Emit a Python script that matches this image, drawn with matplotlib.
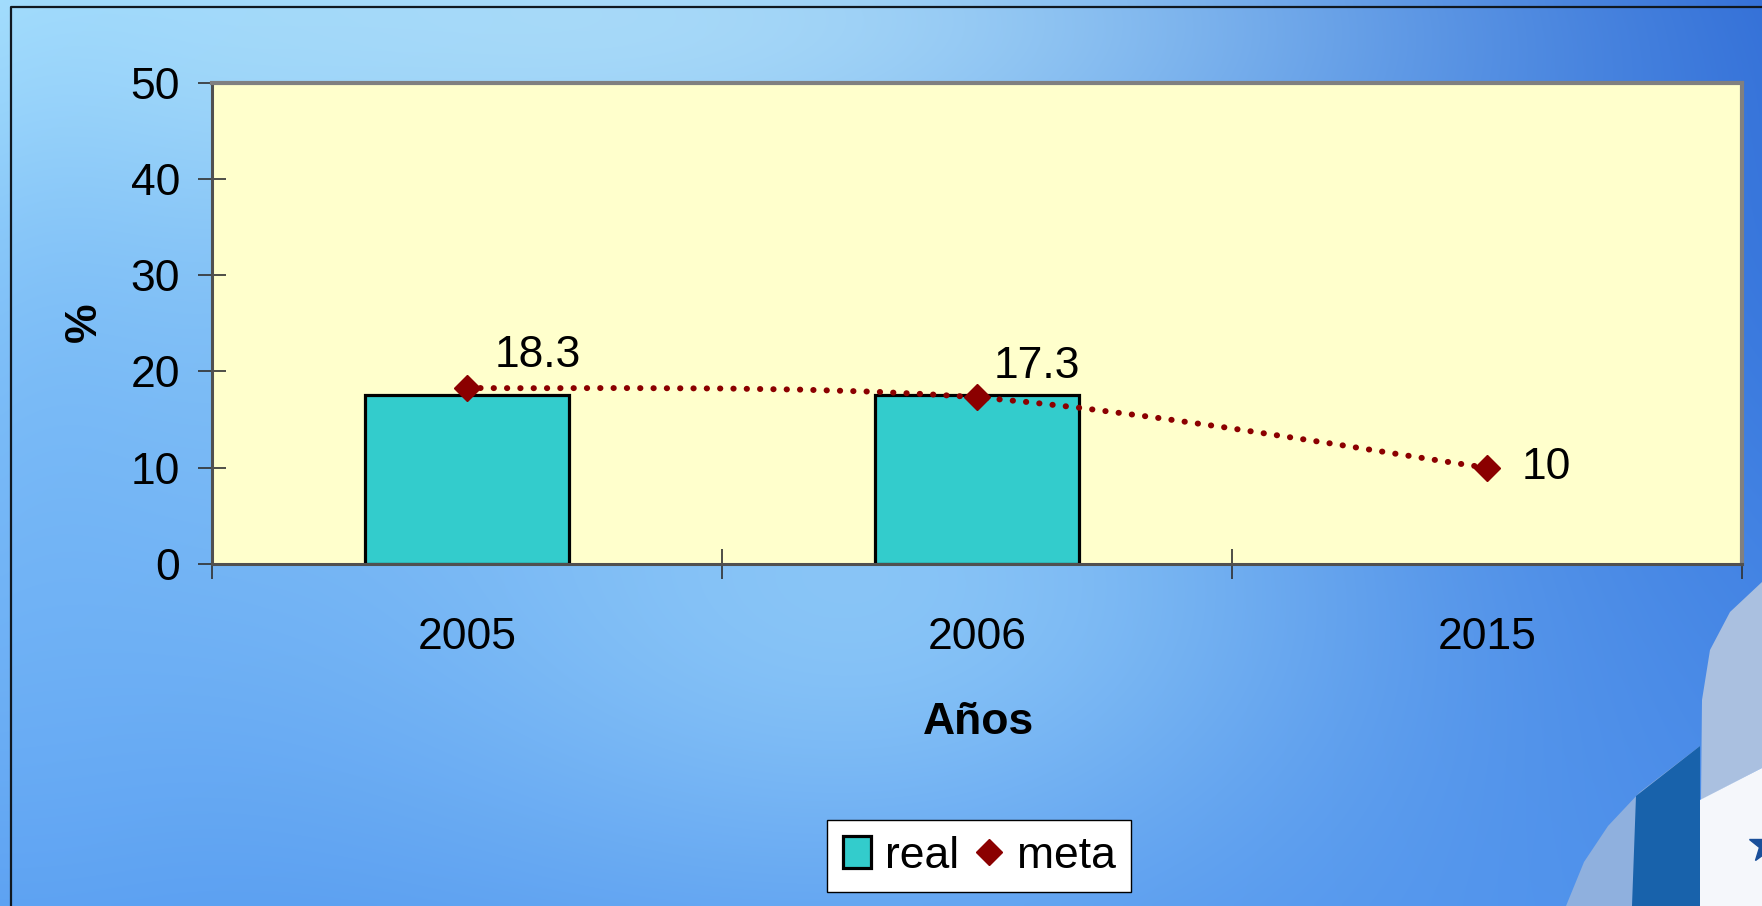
import numpy as np
import matplotlib
matplotlib.use("Agg")
import matplotlib.pyplot as plt
from matplotlib.path import Path
from matplotlib.patches import PathPatch, Polygon
from matplotlib.lines import Line2D

plt.rcParams["font.family"] = ["Liberation Sans", "DejaVu Sans"]

# data
years = ["2005", "2006", "2015"]
real = [17.6, 17.6]          # bars (only 2005 and 2006)
meta = [18.3, 17.3, 10.0]    # target line
meta_labels = ["18.3", "17.3", "10"]

W, H = 1762, 906
fig = plt.figure(figsize=(W / 100, H / 100), dpi=100)

# ---- background: blue swirl approximation ----
bg = fig.add_axes([0, 0, 1, 1], zorder=0)
h, w = 227, 441
yy, xx = np.mgrid[0:h, 0:w]
u = (xx / (w - 1))[..., None]
v = (yy / (h - 1))[..., None]
tl = np.array([0.62, 0.86, 0.99])
tr = np.array([0.18, 0.42, 0.84])
bl = np.array([0.36, 0.63, 0.95])
br = np.array([0.30, 0.56, 0.92])
img = (1 - u) * (1 - v) * tl + u * (1 - v) * tr + (1 - u) * v * bl + u * v * br


def blend(img, cx, cy, sx, sy, amount, col):
    d2 = ((u - cx) / sx) ** 2 + ((v - cy) / sy) ** 2
    wgt = amount * np.exp(-d2)
    return img * (1 - wgt) + np.array(col) * wgt


img = blend(img, 0.50, 0.65, 0.28, 0.35, 0.55, [0.68, 0.90, 1.00])
img = blend(img, 0.40, 0.02, 0.38, 0.22, 0.60, [0.78, 0.95, 1.00])
img = blend(img, 0.02, 0.55, 0.08, 0.45, 0.35, [0.42, 0.68, 0.96])
bg.imshow(np.clip(img, 0, 1), extent=(0, W, H, 0), aspect="auto", interpolation="bilinear")
bg.set_xlim(0, W)
bg.set_ylim(H, 0)
bg.axis("off")

# flag graphic in the lower right corner
bg.add_patch(Polygon([(1566, 906), (1584, 862), (1608, 826), (1640, 792), (1700, 746),
                      (1700, 906)], closed=True, color="#8fb0de", lw=0))
bg.add_patch(Polygon([(1632, 906), (1636, 796), (1700, 746), (1700, 906)],
                     closed=True, color="#1862ab", lw=0))
bg.add_patch(Polygon([(1701, 800), (1702, 700), (1710, 650), (1730, 612), (1762, 582),
                      (1762, 768)], closed=True, color="#aac0e0", lw=0))
bg.add_patch(Polygon([(1700, 906), (1700, 800), (1762, 768), (1762, 906)],
                     closed=True, color="#f5f7fb", lw=0))
bg.plot([1766], [845], marker="*", markersize=26, color="#1a4f9a", clip_on=True)
bg.add_line(Line2D([11, 11, W], [H, 7, 7], color="#101820", lw=1.6))
bg.set_xlim(0, W)
bg.set_ylim(H, 0)

# ---- chart ----
ax = fig.add_axes([212 / W, 1 - 564 / H, (1742 - 212) / W, (564 - 82.7) / H], zorder=2)
ax.set_facecolor("#FFFFCC")
x = np.arange(len(years))

bars = ax.bar(x[:len(real)], real, width=0.40, color="#33CCCC", edgecolor="black",
              linewidth=2.3, zorder=2, label="real")

# smoothed (Catmull-Rom style bezier) dotted line through the target points
pts = np.column_stack([x, meta]).astype(float)
verts = [tuple(pts[0])]
codes = [Path.MOVETO]
for i in range(len(pts) - 1):
    p0 = pts[max(i - 1, 0)]
    p1 = pts[i]
    p2 = pts[i + 1]
    p3 = pts[min(i + 2, len(pts) - 1)]
    c1 = p1 + (p2 - p0) / 6.0
    c2 = p2 - (p3 - p1) / 6.0
    verts += [tuple(c1), tuple(c2), tuple(p2)]
    codes += [Path.CURVE4] * 3
curve = PathPatch(Path(verts, codes), facecolor="none", edgecolor="#8B0000",
                  linewidth=4.3, linestyle=(0, (0.05, 2.18)), capstyle="round", zorder=3)
ax.add_patch(curve)
(marks,) = ax.plot(x, meta, linestyle="none", marker="D", markersize=13, color="#8B0000",
                   zorder=4, label="meta")

offsets = [(71, 12), (60, 10), (59, 0)]
for xi, yi, lab, (dx, dy) in zip(x, meta, meta_labels, offsets):
    ax.annotate(lab, (xi, yi), xytext=(dx * 0.72, dy * 0.72), textcoords="offset points",
                ha="center", va="bottom" if dy else "center", fontsize=32, zorder=5)

ax.set_xlim(-0.5, len(years) - 0.5)
ax.set_ylim(0, 50)
ax.set_yticks(np.arange(0, 51, 10))
ax.set_xticks(np.arange(-0.5, len(years), 1.0))
ax.set_xticklabels([])
ax.set_xticks(x, minor=True)
ax.set_xticklabels(years, minor=True)
ax.tick_params(axis="y", direction="inout", length=20, width=1.2, color="#303030",
               labelsize=32, pad=13)
ax.tick_params(axis="x", which="major", direction="inout", length=22, width=1.2,
               color="#303030")
ax.tick_params(axis="x", which="minor", length=0, labelsize=32, pad=38)

for side in ("top", "right"):
    ax.spines[side].set_color("#808080")
    ax.spines[side].set_linewidth(3)
for side in ("left", "bottom"):
    ax.spines[side].set_color("#505050")
    ax.spines[side].set_linewidth(2.2)

fig.text(84 / W, 1 - 322 / H, "%", rotation=90, ha="center", va="center",
         fontsize=32, fontweight="bold")
fig.text(979 / W, 1 - 722 / H, "Años", ha="center", va="center",
         fontsize=32, fontweight="bold")

leg = ax.legend(handles=[bars, marks], loc="center", bbox_to_anchor=(979 / W, 1 - 856 / H),
                bbox_transform=fig.transFigure, ncol=2, fontsize=32, frameon=True,
                fancybox=False, edgecolor="black", handlelength=0.65, handletextpad=0.3,
                columnspacing=0.35, borderpad=0.35, borderaxespad=0)
leg.get_frame().set_linewidth(1.0)
leg.get_frame().set_facecolor("white")
leg.get_frame().set_alpha(1)

fig.savefig("out.png", dpi=100)
